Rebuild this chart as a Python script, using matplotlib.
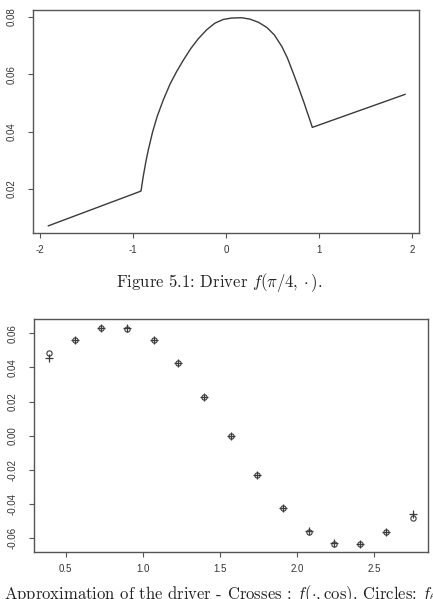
import matplotlib
matplotlib.use("Agg")
import matplotlib.pyplot as plt

plt.rcParams['mathtext.fontset'] = 'cm'

# ---- Figure 5.1 data: driver f(pi/4, .) ----
driver_x = [-1.91, -0.914, -0.89, -0.86, -0.835, -0.79, -0.74, -0.674, -0.6, -0.53, -0.459,
            -0.38, -0.30, -0.208, -0.12, -0.03, 0.06, 0.17, 0.26, 0.35, 0.44, 0.52,
            0.60, 0.66, 0.71, 0.76, 0.80, 0.84, 0.875, 0.905, 0.928, 1.925]
driver_y = [0.0072, 0.0193, 0.0244, 0.0298, 0.0337, 0.0398, 0.0453, 0.0511, 0.0567, 0.0610, 0.0649,
            0.0689, 0.0723, 0.0755, 0.0778, 0.0791, 0.0796, 0.0797, 0.0792, 0.0781, 0.0763, 0.0737,
            0.0697, 0.0657, 0.0615, 0.0572, 0.0536, 0.0500, 0.0466, 0.0438, 0.0415, 0.0530]
top_xticks = [-2, -1, 0, 1, 2]
top_xticklabels = ['-2', '-1', '0', '1', '2']
top_yticks = [0.02, 0.04, 0.06, 0.08]
top_yticklabels = ['0.02', '0.04', '0.06', '0.08']

# ---- Approximation data ----
approx_x = [0.39, 0.56, 0.73, 0.90, 1.07, 1.23, 1.40, 1.57, 1.74, 1.91, 2.08, 2.24, 2.41, 2.58, 2.75]
crosses_y = [0.0457, 0.0561, 0.0629, 0.0631, 0.0560, 0.0425, 0.0226, 0.0000, -0.0229, -0.0423,
             -0.0557, -0.0630, -0.0633, -0.0560, -0.0458]
circles_y = [0.0483, 0.0561, 0.0629, 0.0628, 0.0561, 0.0425, 0.0226, 0.0000, -0.0229, -0.0423,
             -0.0561, -0.0634, -0.0633, -0.0560, -0.0480]
bot_xticks = [0.5, 1.0, 1.5, 2.0, 2.5]
bot_xticklabels = ['0.5', '1.0', '1.5', '2.0', '2.5']
bot_yticks = [-0.06, -0.04, -0.02, 0.00, 0.02, 0.04, 0.06]
bot_yticklabels = ['-0.06', '-0.04', '-0.02', '0.00', '0.02', '0.04', '0.06']

W, H = 433, 599
fig = plt.figure(figsize=(W / 100, H / 100), dpi=100)

spine_col = '#555555'
ink = '#3a3a3a'
tickfont = dict(family='Liberation Sans', size=7, color='#333333')


def style_axes(ax):
    for s in ax.spines.values():
        s.set_color(spine_col)
        s.set_linewidth(1.0)
    ax.tick_params(direction='out', length=3.5, width=0.8, color=spine_col)
    ax.tick_params(axis='x', pad=5)
    ax.tick_params(axis='y', pad=8)


def px_axes(l, t, r, b):
    return fig.add_axes([l / W, 1 - b / H, (r - l) / W, (b - t) / H])


# Top panel
ax1 = px_axes(33, 10, 419, 233)
ax1.plot(driver_x, driver_y, color=ink, lw=1.0)
ax1.set_xlim(-2.075, 2.075)
ax1.set_ylim(0.0047, 0.0824)
ax1.set_xticks(top_xticks)
ax1.set_xticklabels(top_xticklabels, **tickfont)
ax1.set_yticks(top_yticks)
ax1.set_yticklabels(top_yticklabels, rotation=90, va='center', **tickfont)
style_axes(ax1)

fig.text(219 / W, 1 - 287 / H, r'Figure 5.1: Driver $f(\pi/4,\cdot)$.',
         family='cmr10', fontsize=12, ha='center', va='baseline', color='#222222')

# Bottom panel
ax2 = px_axes(34, 319.3, 427.7, 551.7)
ax2.plot(approx_x, crosses_y, ls='none', marker='+', ms=5.5, mew=0.9, color=ink)
ax2.plot(approx_x, circles_y, ls='none', marker='o', ms=3.8, mew=0.8, mfc='none', mec=ink)
ax2.set_xlim(0.2946, 2.848)
ax2.set_ylim(-0.0678, 0.0682)
ax2.set_xticks(bot_xticks)
ax2.set_xticklabels(bot_xticklabels, **tickfont)
ax2.set_yticks(bot_yticks)
ax2.set_yticklabels(bot_yticklabels, rotation=90, va='center', **tickfont)
style_axes(ax2)

fig.text(4 / W, 1 - 599.5 / H,
         r'Approximation of the driver - Crosses : $f(\cdot,\cos)$. Circles: $f_\theta(\cdot,\cos)$.',
         family='cmr10', fontsize=12, ha='left', va='baseline', color='#222222')

fig.savefig('out.png', dpi=100)
